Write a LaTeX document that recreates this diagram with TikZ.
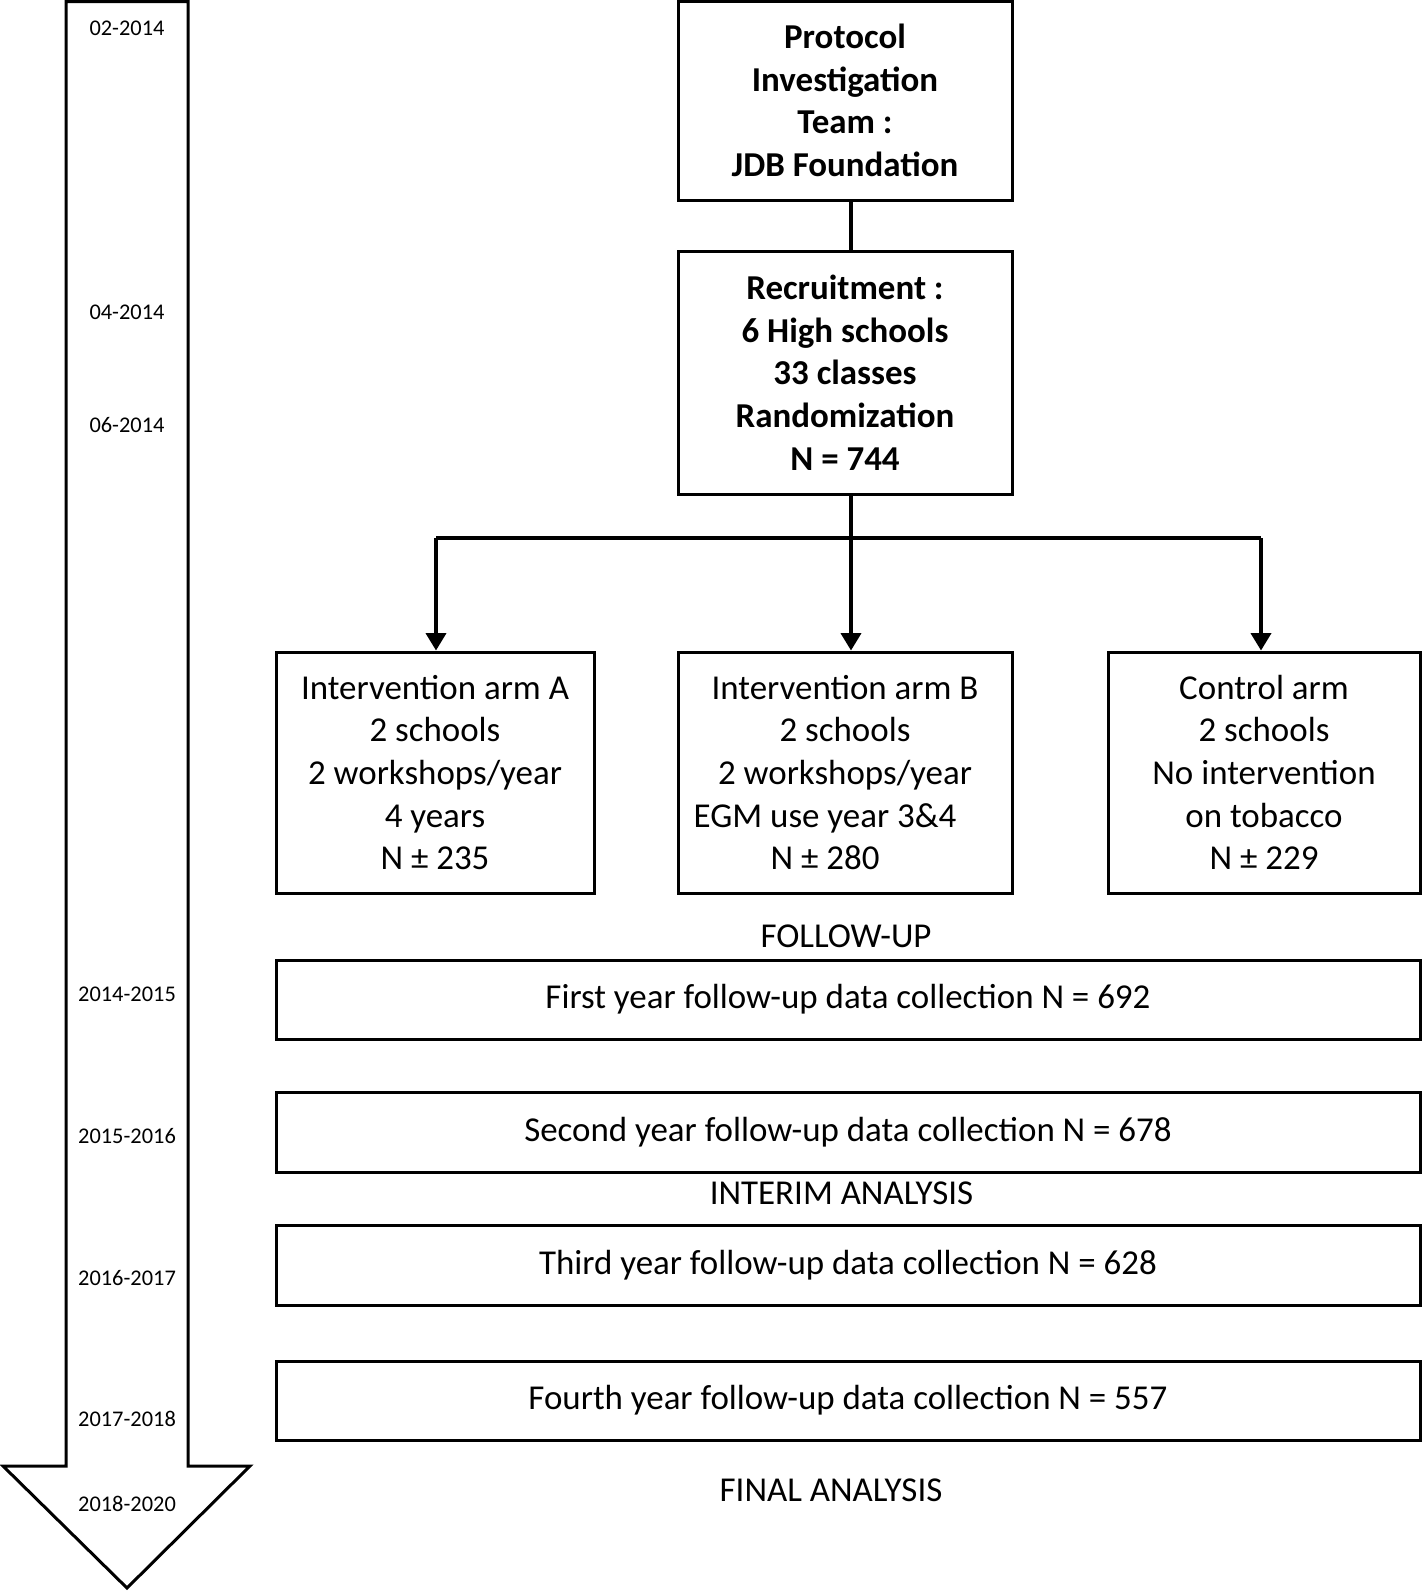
\documentclass[tikz,border=0pt]{standalone}
\usepackage{fontspec}
\setmainfont{Carlito}
\usetikzlibrary{arrows.meta}
\begin{document}
\begin{tikzpicture}[x=0.75pt,y=-0.75pt,
 box/.style={draw, line width=2.25pt, align=center, inner sep=0pt, font=\fontsize{26.2}{32}\selectfont},
 bbox/.style={box, font=\fontsize{26.2}{32}\selectfont\bfseries},
 lbl/.style={font=\fontsize{26.2}{32}\selectfont, inner sep=0pt},
 datelbl/.style={font=\fontsize{16.8}{20}\selectfont, inner sep=0pt},
 conn/.style={line width=2.6pt},
 arr/.style={conn, -{Triangle[length=13pt,width=15pt]}}]
\useasboundingbox (0,0) rectangle (1422,1592);
% timeline arrow
\draw[line width=2.25pt, line join=miter] (66,1.5) -- (188,1.5) -- (188,1466) -- (250,1466) -- (127,1588) -- (3,1466) -- (66,1466) -- cycle;
\node[datelbl] (d1) at (127,28) {02-2014};
\node[datelbl] (d2) at (127,312) {04-2014};
\node[datelbl] (d3) at (127,425) {06-2014};
\node[datelbl] (d4) at (127,994) {2014-2015};
\node[datelbl] (d5) at (127,1136) {2015-2016};
\node[datelbl] (d6) at (127,1278) {2016-2017};
\node[datelbl] (d7) at (127,1419) {2017-2018};
\node[datelbl] (d8) at (127,1504) {2018-2020};
% boxes
\node[bbox, minimum width=334*0.75pt, minimum height=199*0.75pt] (top) at (845,100.5) {Protocol\\Investigation\\Team :\\JDB Foundation};
\node[bbox, minimum width=334*0.75pt, minimum height=243*0.75pt] (rec) at (845,372.5) {Recruitment :\\6 High schools\\33 classes\\Randomization\\N = 744};
\node[box, minimum width=318*0.75pt, minimum height=241*0.75pt] (armA) at (435,772.5) {Intervention arm A\\2 schools\\2 workshops/year\\4 years\\N ± 235};
\node[box, minimum width=334*0.75pt, minimum height=241*0.75pt] (armB) at (845,772.5) {Intervention arm B\\2 schools\\2 workshops/year\\EGM use year 3\&4\rule{30pt}{0pt}\\N ± 280\rule{30pt}{0pt}};
\node[box, minimum width=312*0.75pt, minimum height=241*0.75pt] (ctrl) at (1264,772.5) {Control arm\\2 schools\\No intervention\\on tobacco\\N ± 229};
\node[lbl] (fu) at (846,936) {FOLLOW-UP};
\node[box, minimum width=1144*0.75pt, minimum height=79*0.75pt] (f1) at (848,999.5) {First year follow-up data collection N = 692};
\node[box, minimum width=1144*0.75pt, minimum height=80*0.75pt] (f2) at (848,1132) {Second year follow-up data collection N = 678};
\node[lbl] (ia) at (841.5,1193) {INTERIM ANALYSIS};
\node[box, minimum width=1144*0.75pt, minimum height=80*0.75pt] (f3) at (848,1265) {Third year follow-up data collection N = 628};
\node[box, minimum width=1144*0.75pt, minimum height=79*0.75pt] (f4) at (848,1400.5) {Fourth year follow-up data collection N = 557};
\node[lbl] (fa) at (831,1490) {FINAL ANALYSIS};
% connectors
\coordinate (j) at (851,538);
\coordinate (cA) at (436,538);
\coordinate (cC) at (1261,538);
\draw[conn] (top.south -| j) -- (rec.north -| j);
\draw[conn] (rec.south -| j) -- (j);
\draw[conn] (cA) -- (cC);
\draw[arr] (cA) -- (armA.north -| cA);
\draw[arr] (j) -- (armB.north -| j);
\draw[arr] (cC) -- (ctrl.north -| cC);
\end{tikzpicture}
\end{document}
